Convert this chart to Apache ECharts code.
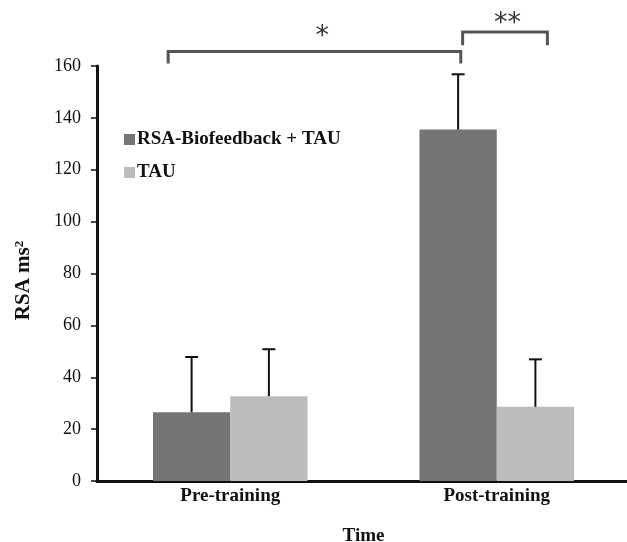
<!DOCTYPE html>
<html><head><meta charset="utf-8">
<script src="https://cdn.jsdelivr.net/npm/echarts@6/dist/echarts.min.js"></script>
<style>html,body{margin:0;padding:0;background:#fff}#c{width:627px;height:542px}</style>
</head><body><div id="c"></div>
<script>
const categories = ['Pre-training', 'Post-training'];
const seriesNames = ['RSA-Biofeedback + TAU', 'TAU'];
const biofeedbackMean = [26.5, 135.5];
const biofeedbackUpper = [47.8, 156.8];
const tauMean = [32.7, 28.6];
const tauUpper = [50.8, 46.9];
const yTicks = [0, 20, 40, 60, 80, 100, 120, 140, 160];
// significance brackets: [xStart, xEnd (category units), yTop, yLegBottom, label, labelX, labelY]
const brackets = [
  [-0.233, 0.865, 165.6, 161.0, '*', 0.345, 172.9],
  [0.872, 1.19, 173.1, 168.0, '**', 1.04, 177.7]
];

const serif = '"Liberation Serif", "DejaVu Serif", serif';
const colors = ['#757575', '#bcbcbc'];
const barFrac = 0.29;

function errRender(sign, upperArr, meanArr) {
  return function (params, api) {
    const i = api.value(0);
    const base = api.coord([i, meanArr[i]]);
    const top = api.coord([i, upperArr[i]]);
    const band = api.size([1, 0])[0];
    const x = base[0] + sign * band * barFrac / 2;
    return {
      type: 'group',
      children: [
        { type: 'line', shape: { x1: x, y1: base[1], x2: x, y2: top[1] }, style: { stroke: '#111', lineWidth: 2 } },
        { type: 'line', shape: { x1: x - 6.5, y1: top[1], x2: x + 6.5, y2: top[1] }, style: { stroke: '#111', lineWidth: 2 } }
      ]
    };
  };
}

const chart = echarts.init(document.getElementById('c'), null, { renderer: 'canvas' });
chart.setOption({
  animation: false,
  backgroundColor: '#fff',
  grid: { left: 97, right: -3, top: 66, bottom: 61, containLabel: false, outerBoundsMode: 'none' },
  legend: {
    orient: 'vertical', left: 119, top: 125,
    itemWidth: 11, itemHeight: 11, itemGap: 14,
    icon: 'rect',
    textStyle: { fontFamily: serif, fontWeight: 'bold', fontSize: 19, color: '#111', padding: [0, 0, 0, -3] },
    data: seriesNames
  },
  xAxis: [{
    type: 'category', data: categories,
    axisLine: { onZero: false, lineStyle: { color: '#111', width: 3 } },
    axisTick: { show: false },
    axisLabel: { fontFamily: serif, fontWeight: 'bold', fontSize: 19, color: '#111', margin: 6 },
    name: 'Time', nameLocation: 'middle', nameGap: 46,
    nameTextStyle: { fontFamily: serif, fontWeight: 'bold', fontSize: 19, color: '#111' }
  }, {
    type: 'value', min: -0.5, max: 1.5, show: false
  }],
  yAxis: {
    type: 'value', min: yTicks[0], max: yTicks[yTicks.length - 1], interval: yTicks[1] - yTicks[0],
    splitLine: { show: false },
    axisLine: { show: true, onZero: false, lineStyle: { color: '#111', width: 3 } },
    axisTick: { show: true, length: 6, lineStyle: { color: '#111', width: 1.5 } },
    axisLabel: { fontFamily: serif, fontSize: 18, color: '#111', margin: 16 },
    name: '{a|RSA ms}{s|2}', nameLocation: 'middle', nameGap: 62, nameRotate: 90,
    nameTextStyle: {
      padding: [0, 14, 0, 0],
      rich: {
        a: { fontFamily: serif, fontWeight: 'bold', fontSize: 21, color: '#111' },
        s: { fontFamily: serif, fontWeight: 'bold', fontSize: 13, color: '#111', verticalAlign: 'top', padding: [0, 0, 9, 0] }
      }
    }
  },
  series: [
    { name: seriesNames[0], type: 'bar', data: biofeedbackMean, barWidth: (barFrac * 100) + '%', barGap: '0%', itemStyle: { color: colors[0] }, z: 2 },
    { name: seriesNames[1], type: 'bar', data: tauMean, barWidth: (barFrac * 100) + '%', barGap: '0%', itemStyle: { color: colors[1] }, z: 2 },
    { type: 'custom', data: categories.map((c, i) => [i]), renderItem: errRender(-1, biofeedbackUpper, biofeedbackMean), z: 3, silent: true },
    { type: 'custom', data: categories.map((c, i) => [i]), renderItem: errRender(1, tauUpper, tauMean), z: 3, silent: true },
    {
      type: 'custom', xAxisIndex: 1, silent: true, clip: false, z: 4,
      data: brackets.map((b, i) => [b[0], b[2], i]),
      renderItem: function (params, api) {
        const b = brackets[api.value(2)];
        const p1 = api.coord([b[0], b[2]]);
        const p2 = api.coord([b[1], b[2]]);
        const bot = api.coord([b[0], b[3]]);
        const lp = api.coord([b[5], b[6]]);
        const st = { stroke: '#555', lineWidth: 3, fill: null };
        return {
          type: 'group',
          children: [
            { type: 'polyline', shape: { points: [[p1[0], bot[1]], [p1[0], p1[1]], [p2[0], p2[1]], [p2[0], bot[1]]] }, style: st },
            { type: 'text', x: lp[0], y: lp[1] + 4, style: { text: b[4], fontFamily: '"DejaVu Sans", sans-serif', fontSize: 27, fill: '#333', align: 'center', verticalAlign: 'middle' } }
          ]
        };
      }
    }
  ]
});
</script></body></html>
